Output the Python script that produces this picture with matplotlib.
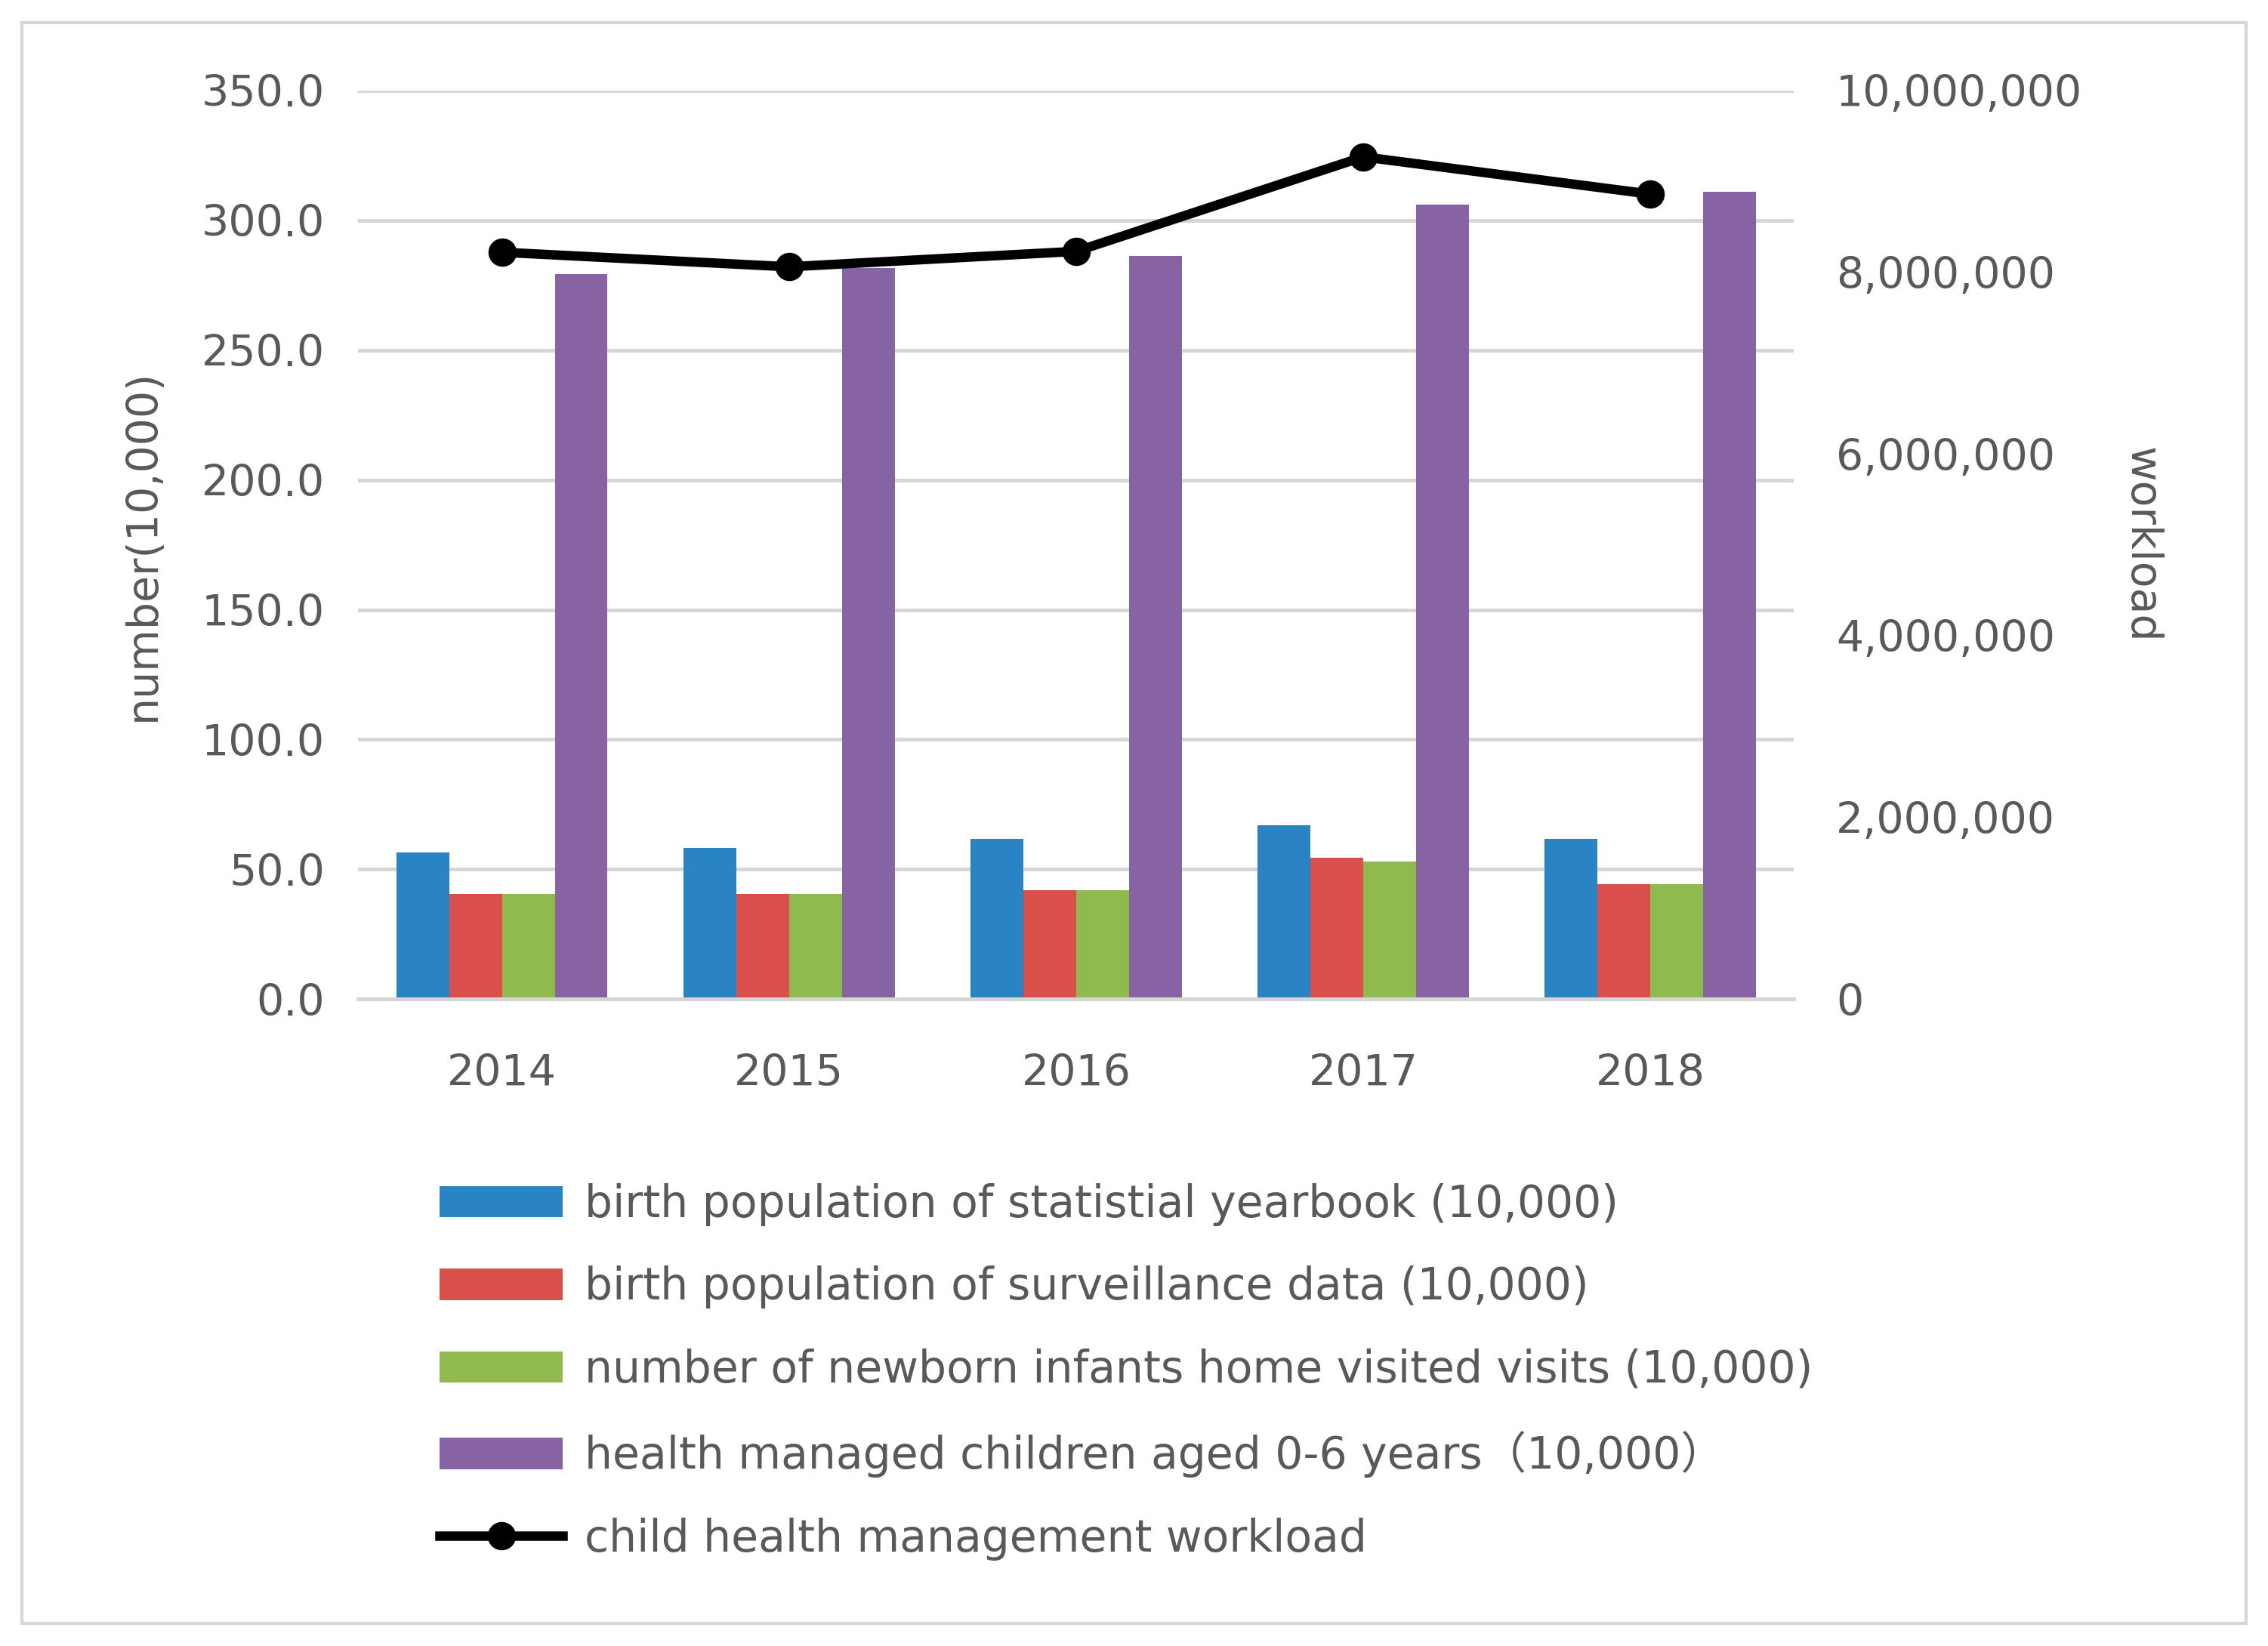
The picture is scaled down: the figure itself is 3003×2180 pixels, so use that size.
import numpy as np
import matplotlib
matplotlib.use("Agg")
import matplotlib.pyplot as plt
from matplotlib.ticker import FuncFormatter, MultipleLocator
from matplotlib.patches import Rectangle

plt.rcParams['font.family'] = ['DejaVu Sans', 'Noto Sans CJK SC']

years = ['2014', '2015', '2016', '2017', '2018']
birth_yearbook = [56.4, 58.2, 61.8, 67.1, 61.8]
birth_surveillance = [40.6, 40.6, 42.1, 54.6, 44.2]
newborn_visits = [40.6, 40.6, 42.1, 52.9, 44.2]
children_0_6 = [279.2, 281.7, 286.3, 306.0, 311.1]
workload = [8220000, 8060000, 8230000, 9270000, 8860000]

bar_series = [
    (birth_yearbook, '#2a84c4', 'birth population of statistial yearbook (10,000)'),
    (birth_surveillance, '#d94f4b', 'birth population of surveillance data (10,000)'),
    (newborn_visits, '#8fbb4e', 'number of newborn infants home visited visits (10,000)'),
    (children_0_6, '#8763a3', 'health managed children aged 0-6 years（10,000）'),
]
line_label = 'child health management workload'

text_color = '#595959'
grid_color = '#d6d6d6'

fig = plt.figure(figsize=(15.015, 10.9), dpi=200)
fig.patches.append(Rectangle((0.0097, 0.0138), 0.9806, 0.9725, transform=fig.transFigure,
                             fill=False, edgecolor=grid_color, linewidth=1.5))

ax = fig.add_axes([0.158, 0.393, 0.633, 0.552])
x = np.arange(len(years))
w = 0.184
offsets = [-1.5, -0.5, 0.5, 1.5]
handles = []
for (vals, color, label), off in zip(bar_series, offsets):
    h = ax.bar(x + off * w, vals, width=w, color=color, label=label, zorder=2)
    handles.append(h)

ax.set_xlim(-0.5, len(years) - 0.5)
ax.set_ylim(0, 350)
ax.yaxis.set_major_locator(MultipleLocator(50))
ax.yaxis.set_major_formatter(FuncFormatter(lambda v, p: f'{v:.1f}'))
ax.set_xticks(x)
ax.set_xticklabels(years)
ax.grid(axis='y', color=grid_color, linewidth=1.8, zorder=0)
ax.set_axisbelow(True)
for s in ['top', 'left', 'right']:
    ax.spines[s].set_visible(False)
ax.spines['bottom'].set_color(grid_color)
ax.spines['bottom'].set_linewidth(1.8)
ax.tick_params(axis='both', length=0, labelsize=20.5, colors=text_color)
ax.tick_params(axis='x', pad=26)
ax.tick_params(axis='y', pad=16)
ax.set_ylabel('number(10,000)', fontsize=20.5, color=text_color, labelpad=18)

ax2 = ax.twinx()
ax2.set_ylim(0, 10000000)
ax2.yaxis.set_major_locator(MultipleLocator(2000000))
ax2.yaxis.set_major_formatter(FuncFormatter(lambda v, p: f'{int(v):,}'))
for s in ['top', 'left', 'right', 'bottom']:
    ax2.spines[s].set_visible(False)
ax2.tick_params(axis='y', length=0, labelsize=20.5, colors=text_color, pad=20)
ln, = ax2.plot(x, workload, color='black', linewidth=4.5, marker='o', markersize=12.5,
               label=line_label, zorder=3)
ax2.set_ylabel('workload', fontsize=20.5, color=text_color, rotation=270, labelpad=38)
handles.append(ln)

leg = fig.legend(handles=handles, labels=[h.get_label() for h in handles],
                 loc='upper left', bbox_to_anchor=(0.186, 0.292),
                 frameon=False, fontsize=21, labelcolor=text_color,
                 handlelength=2.8, handleheight=0.72, handletextpad=0.5,
                 labelspacing=0.9, borderaxespad=0)

fig.savefig('out.png', dpi=200)
